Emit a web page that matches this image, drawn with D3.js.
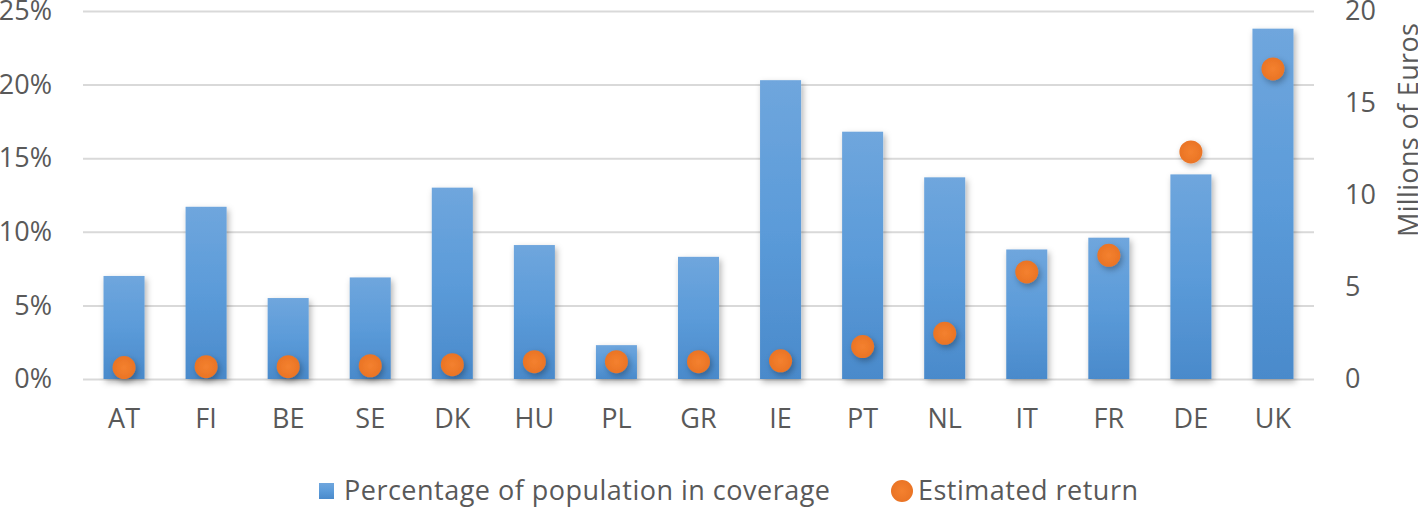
<!DOCTYPE html>
<html>
<head>
<meta charset="utf-8">
<script src="https://cdn.jsdelivr.net/npm/d3@7"></script>
<style>
  html, body { margin: 0; padding: 0; background: #fff; }
  svg { display: block; }
  svg text { font-family: "Open Sans", "DejaVu Sans", sans-serif; }
</style>
</head>
<body>
<svg id="chart" width="1418" height="507"></svg>
<script>
const categories = ["AT","FI","BE","SE","DK","HU","PL","GR","IE","PT","NL","IT","FR","DE","UK"];
const coverage = [7.0, 11.7, 5.5, 6.9, 13.0, 9.1, 2.3, 8.3, 20.3, 16.8, 13.7, 8.8, 9.6, 13.9, 23.8];
const estimatedReturn = [0.62, 0.67, 0.67, 0.72, 0.78, 0.94, 0.94, 0.94, 0.99, 1.76, 2.48, 5.82, 6.72, 12.34, 16.85];
const leftTicks = [0, 5, 10, 15, 20, 25];
const rightTicks = [0, 5, 10, 15, 20];
const seriesNames = ["Percentage of population in coverage", "Estimated return"];
const rightTitle = "Millions of Euros";

(function () {
const svg = d3.select("#chart");
const plotL = 83, plotR = 1314, plotT = 11, plotB = 379;
const textColor = "#595959";
const fam = '"Open Sans", "DejaVu Sans", sans-serif';

const x = d3.scaleBand().domain(categories).range([plotL, plotR]).paddingInner(0.5).paddingOuter(0.25);
const yL = d3.scaleLinear().domain([0, 25]).range([plotB, plotT]);
const yR = d3.scaleLinear().domain([0, 20]).range([plotB, plotT]);

const defs = svg.append("defs");
const grad = defs.append("linearGradient").attr("id", "barGrad").attr("x1", 0).attr("y1", 0).attr("x2", 0).attr("y2", 1);
grad.append("stop").attr("offset", "0%").attr("stop-color", "#6fa6dd");
grad.append("stop").attr("offset", "50%").attr("stop-color", "#5b9bd9");
grad.append("stop").attr("offset", "100%").attr("stop-color", "#4a8acb");
const f = defs.append("filter").attr("id", "shadow").attr("x", "-30%").attr("y", "-30%").attr("width", "170%").attr("height", "170%");
f.append("feDropShadow").attr("dx", 2).attr("dy", 3).attr("stdDeviation", 3).attr("flood-color", "#000").attr("flood-opacity", 0.3);
const gradO = defs.append("radialGradient").attr("id", "dotGrad");
gradO.append("stop").attr("offset", "0%").attr("stop-color", "#f4812f");
gradO.append("stop").attr("offset", "100%").attr("stop-color", "#ea7425");

const leftAxis = d3.axisLeft(yL).tickValues(leftTicks).tickSize(-(plotR - plotL)).tickFormat(d => d + "%").tickPadding(31);
const gL = svg.append("g").attr("transform", `translate(${plotL},0)`).call(leftAxis);
gL.select(".domain").remove();
gL.attr("font-family", fam);
gL.selectAll(".tick line").attr("stroke", "#d9d9d9").attr("stroke-width", 2);
gL.selectAll(".tick text").attr("fill", textColor).attr("font-size", 27);

const rightAxis = d3.axisRight(yR).tickValues(rightTicks).tickSize(0).tickPadding(31);
const gR = svg.append("g").attr("transform", `translate(${plotR},0)`).call(rightAxis);
gR.select(".domain").remove();
gR.attr("font-family", fam);
gR.selectAll(".tick text").attr("fill", textColor).attr("font-size", 27);

svg.append("g").selectAll("rect").data(categories).join("rect")
  .attr("x", d => x(d))
  .attr("width", x.bandwidth())
  .attr("y", (d, i) => yL(coverage[i]))
  .attr("height", (d, i) => yL(0) - yL(coverage[i]))
  .attr("fill", "url(#barGrad)")
  .attr("filter", "url(#shadow)");

svg.append("g").selectAll("circle").data(categories).join("circle")
  .attr("cx", d => x(d) + x.bandwidth() / 2)
  .attr("cy", (d, i) => yR(estimatedReturn[i]))
  .attr("r", 11.5)
  .attr("fill", "url(#dotGrad)")
  .attr("filter", "url(#shadow)");

const xAxis = d3.axisBottom(x).tickSize(0).tickPadding(30);
const gX = svg.append("g").attr("transform", `translate(0,${plotB})`).call(xAxis);
gX.select(".domain").remove();
gX.attr("font-family", fam);
gX.selectAll(".tick text").attr("fill", textColor).attr("font-size", 27);

svg.append("text")
  .attr("transform", `translate(1418,130) rotate(-90)`)
  .attr("text-anchor", "middle")
  .attr("fill", textColor)
  .attr("font-size", 27)
  .attr("textLength", 214)
  .attr("lengthAdjust", "spacing")
  .text(rightTitle);

const lg = svg.append("g");
lg.append("rect").attr("x", 319).attr("y", 483).attr("width", 15).attr("height", 16).attr("fill", "url(#barGrad)");
lg.append("text").attr("x", 344).attr("y", 491).attr("dy", "0.35em").attr("fill", textColor).attr("font-size", 27)
  .attr("textLength", 486).attr("lengthAdjust", "spacing").text(seriesNames[0]);
lg.append("circle").attr("cx", 902).attr("cy", 491).attr("r", 11).attr("fill", "url(#dotGrad)");
lg.append("text").attr("x", 918).attr("y", 491).attr("dy", "0.35em").attr("fill", textColor).attr("font-size", 27)
  .attr("textLength", 220).attr("lengthAdjust", "spacing").text(seriesNames[1]);
})();
</script>
</body>
</html>
